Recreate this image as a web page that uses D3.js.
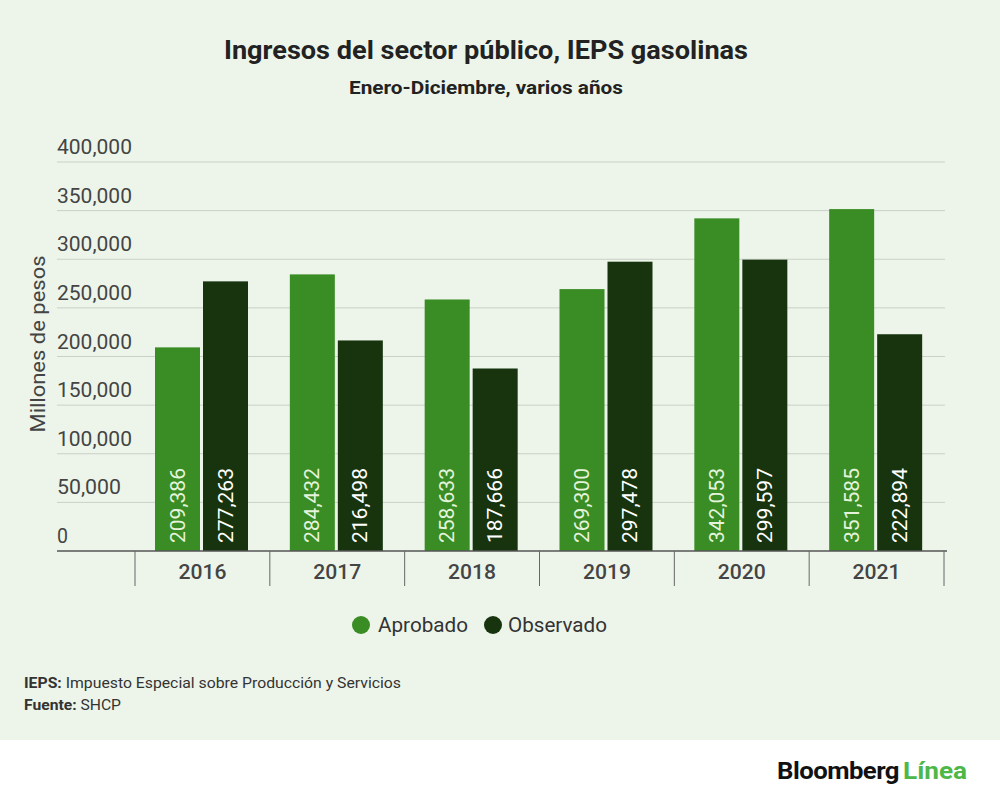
<!DOCTYPE html>
<html><head><meta charset="utf-8">
<script src="https://cdn.jsdelivr.net/npm/d3@7"></script>
<style>html,body{margin:0;padding:0;background:#fff}svg{display:block}text{font-family:Roboto,"Liberation Sans",sans-serif}</style>
</head><body>
<svg id="c" width="1000" height="802"></svg>
<script>
const years = ["2016","2017","2018","2019","2020","2021"];
const seriesNames = ["Aprobado","Observado"];
const aprobado = [209386,284432,258633,269300,342053,351585];
const observado = [277263,216498,187666,297478,299597,222894];
const yTicks = [0,50000,100000,150000,200000,250000,300000,350000,400000];
const colors = {Aprobado:"#3a8c24", Observado:"#17340f"};
const labelColors = {Aprobado:"#e4f4dc", Observado:"#ffffff"};

const svg = d3.select("#c");
svg.append("rect").attr("width",1000).attr("height",740).attr("fill","#edf5ea");
svg.append("rect").attr("y",740).attr("width",1000).attr("height",62).attr("fill","#ffffff");

function fitText(sel, w){ sel.attr("textLength", w).attr("lengthAdjust","spacingAndGlyphs"); return sel; }

fitText(svg.append("text").attr("x",486).attr("y",59).attr("text-anchor","middle")
  .attr("font-size",26).attr("font-weight",700).attr("fill","#222")
  .text("Ingresos del sector público, IEPS gasolinas"), 524);
fitText(svg.append("text").attr("x",486).attr("y",94).attr("text-anchor","middle")
  .attr("font-size",19).attr("font-weight",700).attr("fill","#222")
  .text("Enero-Diciembre, varios años"), 274);

const y = d3.scaleLinear().domain([0,400000]).range([551,162]);
const x0 = d3.scaleBand().domain(years).range([135,944]);
const x1 = d3.scaleBand().domain(seriesNames).range([20,113]).paddingInner(0.0625);
const fmt = d3.format(",");

// gridlines + tick labels
const g = svg.append("g");
yTicks.forEach(t=>{
  if(t>0) g.append("line").attr("x1",57).attr("x2",945).attr("y1",y(t)).attr("y2",y(t))
    .attr("stroke","#c9d0c6").attr("stroke-width",1);
  const lbl = g.append("text").attr("x",57).attr("y",y(t)-8).attr("font-size",20)
    .attr("fill","#444").text(fmt(t));
  const w = {1:11, 6:64, 7:75}[fmt(t).length];
  fitText(lbl, w);
});

// y axis title
fitText(svg.append("text").attr("transform","translate(45,344) rotate(-90)")
  .attr("text-anchor","middle").attr("font-size",20).attr("fill","#444")
  .text("Millones de pesos"), 177);

// bars
const data = years.map((yr,i)=>({year:yr, vals:[{k:"Aprobado",v:aprobado[i]},{k:"Observado",v:observado[i]}]}));
const groups = svg.append("g").selectAll("g").data(data).join("g")
  .attr("transform",d=>`translate(${x0(d.year)},0)`);
groups.selectAll("rect").data(d=>d.vals).join("rect")
  .attr("x",d=>x1(d.k)).attr("width",x1.bandwidth())
  .attr("y",d=>y(d.v)).attr("height",d=>y(0)-y(d.v)).attr("fill",d=>colors[d.k]);
groups.selectAll("text").data(d=>d.vals).join("text")
  .attr("transform",d=>`translate(${x1(d.k)+x1.bandwidth()/2+7},543) rotate(-90)`)
  .attr("font-size",20).attr("fill",d=>labelColors[d.k])
  .attr("textLength",75).attr("lengthAdjust","spacingAndGlyphs")
  .text(d=>fmt(d.v));

// x axis
svg.append("line").attr("x1",57).attr("x2",947).attr("y1",551).attr("y2",551)
  .attr("stroke","#555").attr("stroke-width",1.5);
const bounds = years.map(d=>x0(d)).concat([x0.range()[1]]);
svg.append("g").selectAll("line").data(bounds).join("line")
  .attr("x1",d=>d).attr("x2",d=>d).attr("y1",551).attr("y2",586)
  .attr("stroke","#666").attr("stroke-width",1);
svg.append("g").selectAll("text").data(years).join("text")
  .attr("x",d=>x0(d)+x0.bandwidth()/2).attr("y",579).attr("text-anchor","middle")
  .attr("font-size",20).attr("font-weight",500).attr("fill","#444")
  .attr("textLength",48).attr("lengthAdjust","spacingAndGlyphs").text(d=>d);

// legend
const leg = [{k:"Aprobado",cx:361,tx:378,w:90},{k:"Observado",cx:493,tx:508,w:99}];
leg.forEach(l=>{
  svg.append("circle").attr("cx",l.cx).attr("cy",625).attr("r",9).attr("fill",colors[l.k]);
  fitText(svg.append("text").attr("x",l.tx).attr("y",632).attr("font-size",20).attr("fill","#333").text(l.k), l.w);
});

// footer
const f1 = svg.append("text").attr("x",24).attr("y",688).attr("font-size",14).attr("fill","#333");
f1.append("tspan").attr("font-weight",700).text("IEPS:");
f1.append("tspan").text(" Impuesto Especial sobre Producción y Servicios");
fitText(f1, 377);
const f2 = svg.append("text").attr("x",24).attr("y",710).attr("font-size",14).attr("fill","#333");
f2.append("tspan").attr("font-weight",700).text("Fuente:");
f2.append("tspan").text(" SHCP");
fitText(f2, 97);

// logo
fitText(svg.append("text").attr("x",777).attr("y",779).attr("font-size",24).attr("font-weight",700)
  .attr("fill","#111").attr("letter-spacing",-0.5).text("Bloomberg"), 122);
fitText(svg.append("text").attr("x",903).attr("y",779).attr("font-size",24).attr("font-weight",700)
  .attr("fill","#4db848").text("Línea"), 64);
</script>
</body></html>
